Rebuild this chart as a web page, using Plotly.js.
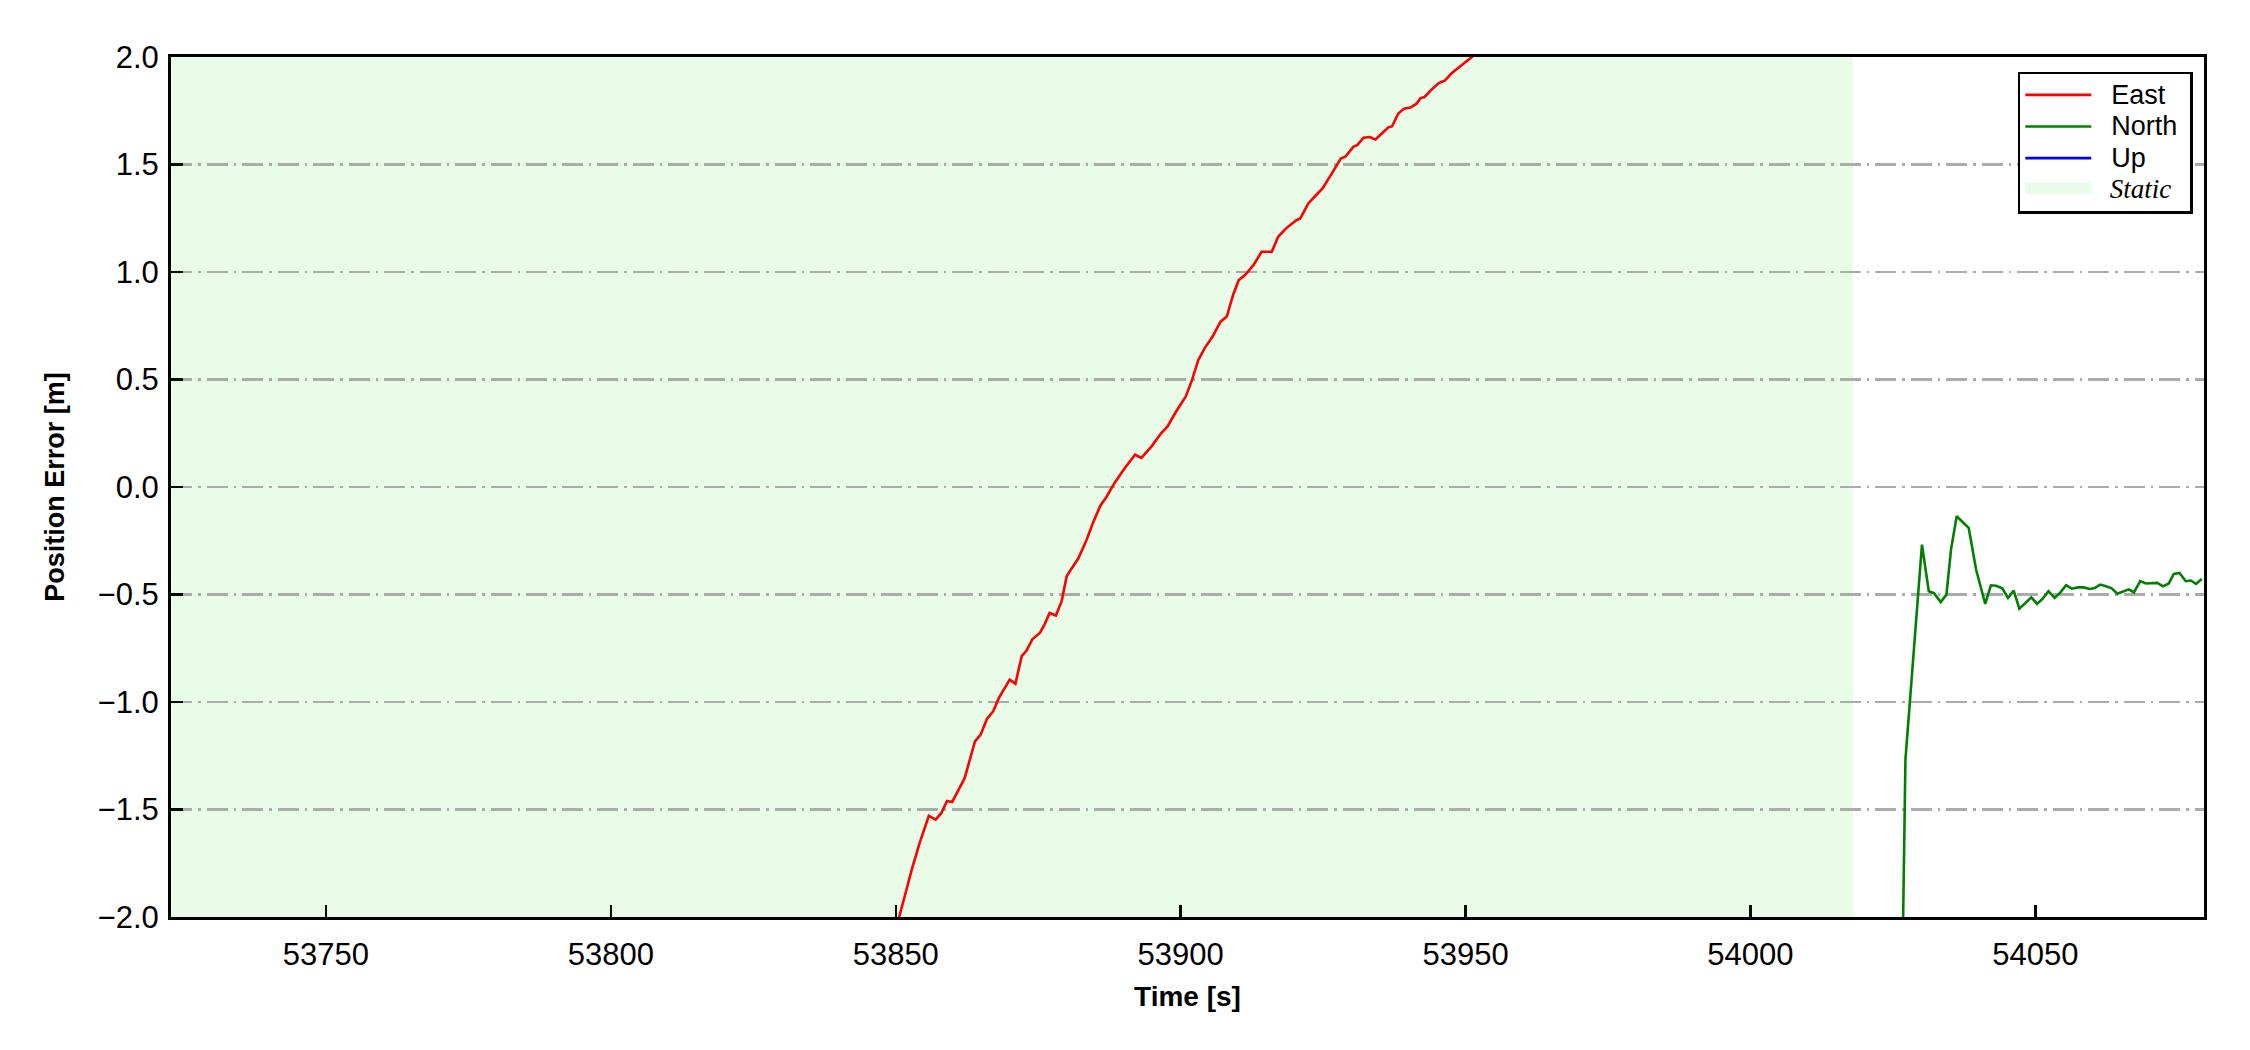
<!DOCTYPE html>
<html>
<head>
<meta charset="utf-8">
<script src="https://cdn.plot.ly/plotly-3.0.1.min.js"></script>
<style>html,body{margin:0;padding:0;background:#fff;}#chart{width:2250px;height:1050px;}</style>
</head>
<body>
<div id="chart"></div>
<script>
// ---- data ----
const eastTime = [53849.6, 53850.6, 53851.6, 53852.9, 53854.2, 53855.8, 53857.0, 53858.0, 53859.0, 53859.9,
  53860.9, 53862.1, 53863.9, 53864.9, 53866.0, 53867.1, 53868.1, 53870.0, 53871.0, 53872.1,
  53872.9, 53874.0, 53875.3, 53876.1, 53877.0, 53878.1, 53879.1, 53880.0, 53880.8, 53882.0,
  53883.5, 53884.6, 53885.9, 53887.0, 53888.4, 53890.2, 53892.0, 53893.1, 53894.9, 53896.6,
  53897.7, 53899.2, 53900.9, 53902.0, 53903.1, 53904.2, 53905.6, 53907.0, 53908.1, 53909.2,
  53910.2, 53911.3, 53912.8, 53914.2, 53916.0, 53917.1, 53918.5, 53920.3, 53921.0, 53922.4,
  53923.5, 53924.9, 53926.7, 53928.1, 53928.9, 53930.3, 53931.0, 53932.1, 53933.2, 53934.2,
  53935.3, 53936.4, 53937.1, 53938.2, 53939.2, 53940.3, 53941.4, 53942.1, 53942.8, 53943.9,
  53945.3, 53946.4, 53947.5, 53949.3, 53951.1, 53952.5];
const eastErr = [-2.16, -2.00, -1.90, -1.77, -1.655, -1.53, -1.547, -1.516, -1.46, -1.465,
  -1.415, -1.353, -1.183, -1.152, -1.079, -1.043, -0.981, -0.896, -0.915, -0.787,
  -0.763, -0.707, -0.679, -0.640, -0.586, -0.598, -0.532, -0.415, -0.381, -0.334,
  -0.245, -0.167, -0.087, -0.045, 0.019, 0.088, 0.150, 0.135, 0.189, 0.251,
  0.282, 0.351, 0.421, 0.498, 0.591, 0.645, 0.700, 0.769, 0.793, 0.893,
  0.963, 0.986, 1.033, 1.094, 1.094, 1.164, 1.203, 1.241, 1.249, 1.319,
  1.350, 1.389, 1.466, 1.528, 1.536, 1.582, 1.590, 1.625, 1.628, 1.616,
  1.644, 1.672, 1.678, 1.737, 1.760, 1.765, 1.783, 1.809, 1.814, 1.845,
  1.879, 1.891, 1.923, 1.961, 2.00, 2.04];

const northTime = [54026.5, 54026.8, 54027.2, 54030.1, 54031.3, 54032.2, 54033.4, 54034.4, 54035.2, 54036.2,
  54038.3, 54039.6, 54041.2, 54042.2, 54043.1, 54044.2, 54045.2, 54046.2, 54047.2, 54048.3,
  54049.3, 54050.3, 54051.3, 54052.3, 54053.4, 54054.4, 54055.4, 54056.4, 54057.5, 54058.5,
  54059.5, 54060.4, 54061.4, 54062.4, 54063.4, 54064.4, 54065.4, 54066.4, 54067.3, 54068.4,
  54069.4, 54070.4, 54071.4, 54072.4, 54073.4, 54074.3, 54075.3, 54076.4, 54077.3, 54078.2, 54079.2];
const northErr = [-2.4, -2.00, -1.268, -0.268, -0.485, -0.494, -0.535, -0.500, -0.291, -0.136,
  -0.190, -0.384, -0.544, -0.457, -0.459, -0.471, -0.516, -0.482, -0.566, -0.539,
  -0.513, -0.544, -0.519, -0.485, -0.516, -0.490, -0.457, -0.473, -0.467, -0.467,
  -0.474, -0.470, -0.454, -0.462, -0.471, -0.496, -0.485, -0.476, -0.490, -0.438,
  -0.449, -0.446, -0.446, -0.462, -0.449, -0.404, -0.400, -0.438, -0.435, -0.451, -0.428];

// Up is never inside the visible window: no visible samples
const upTime = [null];
const upErr = [null];

const staticStart = [53722.8];
const staticEnd = [54018.0];

const xRange = [53722.8, 54079.6];
const yRange = [-2.0, 2.0];
const xTicks = [53750, 53800, 53850, 53900, 53950, 54000, 54050];
const yTicks = [-2.0, -1.5, -1.0, -0.5, 0.0, 0.5, 1.0, 1.5, 2.0];

const seriesNames = ['East', 'North', 'Up'];
const staticLabel = 'Static';
const xTitle = 'Time [s]';
const yTitle = 'Position Error [m]';

// ---- figure ----
const SANS = 'Liberation Sans, Arial, Helvetica, sans-serif';
const SERIF = 'Liberation Serif, Times New Roman, serif';
const STATIC_COLOR = '#e8fce8';
const NB = '\u00a0';

function legendLabel(txt, serifItalic) {
  const inner = serifItalic ? '<i>' + txt + '</i>' : txt;
  const fam = serifItalic ? SERIF : SANS;
  return '<span style="font-size:27px;font-family:' + fam + '">' + NB + NB + inner + NB + '</span>';
}

const traces = [
  {x: eastTime, y: eastErr, type: 'scatter', mode: 'lines', name: legendLabel(seriesNames[0]),
   line: {color: '#ff0000', width: 2.6}, legendrank: 1},
  {x: northTime, y: northErr, type: 'scatter', mode: 'lines', name: legendLabel(seriesNames[1]),
   line: {color: '#008000', width: 2.6}, legendrank: 2},
  {x: upTime, y: upErr, type: 'scatter', mode: 'lines', name: legendLabel(seriesNames[2]),
   line: {color: '#0000ff', width: 2.6}, legendrank: 3},
  // legend entry for the static span (the span itself is the layout shape below)
  {x: [null], y: [null], type: 'scatter', mode: 'lines', fill: 'toself', fillcolor: STATIC_COLOR,
   name: legendLabel(staticLabel, true),
   line: {color: STATIC_COLOR, width: 10}, legendrank: 4}
];

const layout = {
  width: 2250, height: 1050,
  margin: {l: 171, r: 46, t: 57, b: 133, pad: 0},
  paper_bgcolor: '#ffffff', plot_bgcolor: '#ffffff',
  font: {family: SANS, color: '#000000', size: 31},
  showlegend: true,
  legend: {
    x: 0.9945, y: 0.983, xanchor: 'right', yanchor: 'top',
    bgcolor: '#ffffff', bordercolor: '#000000', borderwidth: 2.5,
    font: {family: SANS, size: 22, color: '#000000'},
    traceorder: 'normal', tracegroupgap: 0, itemwidth: 66
  },
  shapes: [{
    type: 'rect', xref: 'x', yref: 'paper', x0: staticStart[0], x1: staticEnd[0], y0: 0, y1: 1,
    fillcolor: STATIC_COLOR, line: {width: 0}, layer: 'below'
  }],
  xaxis: {
    range: xRange, tickvals: xTicks, ticktext: xTicks.map(String),
    ticks: 'inside', ticklen: 12, tickwidth: 2.5, tickcolor: '#000000',
    showline: true, linewidth: 3, linecolor: '#000000', mirror: true,
    showgrid: false, zeroline: false,
    tickfont: {family: SANS, size: 31, color: '#000000'},
    ticklabelstandoff: 8,
    title: {text: '<b>' + xTitle + '</b>', font: {family: SANS, size: 28, color: '#000000'}, standoff: 16}
  },
  yaxis: {
    range: yRange, tickvals: yTicks, tickformat: '.1f',
    ticks: 'inside', ticklen: 12, tickwidth: 2.5, tickcolor: '#000000',
    showline: true, linewidth: 3, linecolor: '#000000', mirror: true,
    showgrid: true, gridcolor: '#ababab', gridwidth: 2.5, griddash: '21px,6px,2.5px,6px',
    zeroline: false,
    tickfont: {family: SANS, size: 31, color: '#000000'},
    ticklabelstandoff: 3,
    title: {text: '<b>' + yTitle + '</b>', font: {family: SANS, size: 27, color: '#000000'}, standoff: 26}
  }
};

Plotly.newPlot('chart', traces, layout, {displayModeBar: false, staticPlot: true});
</script>
</body>
</html>
